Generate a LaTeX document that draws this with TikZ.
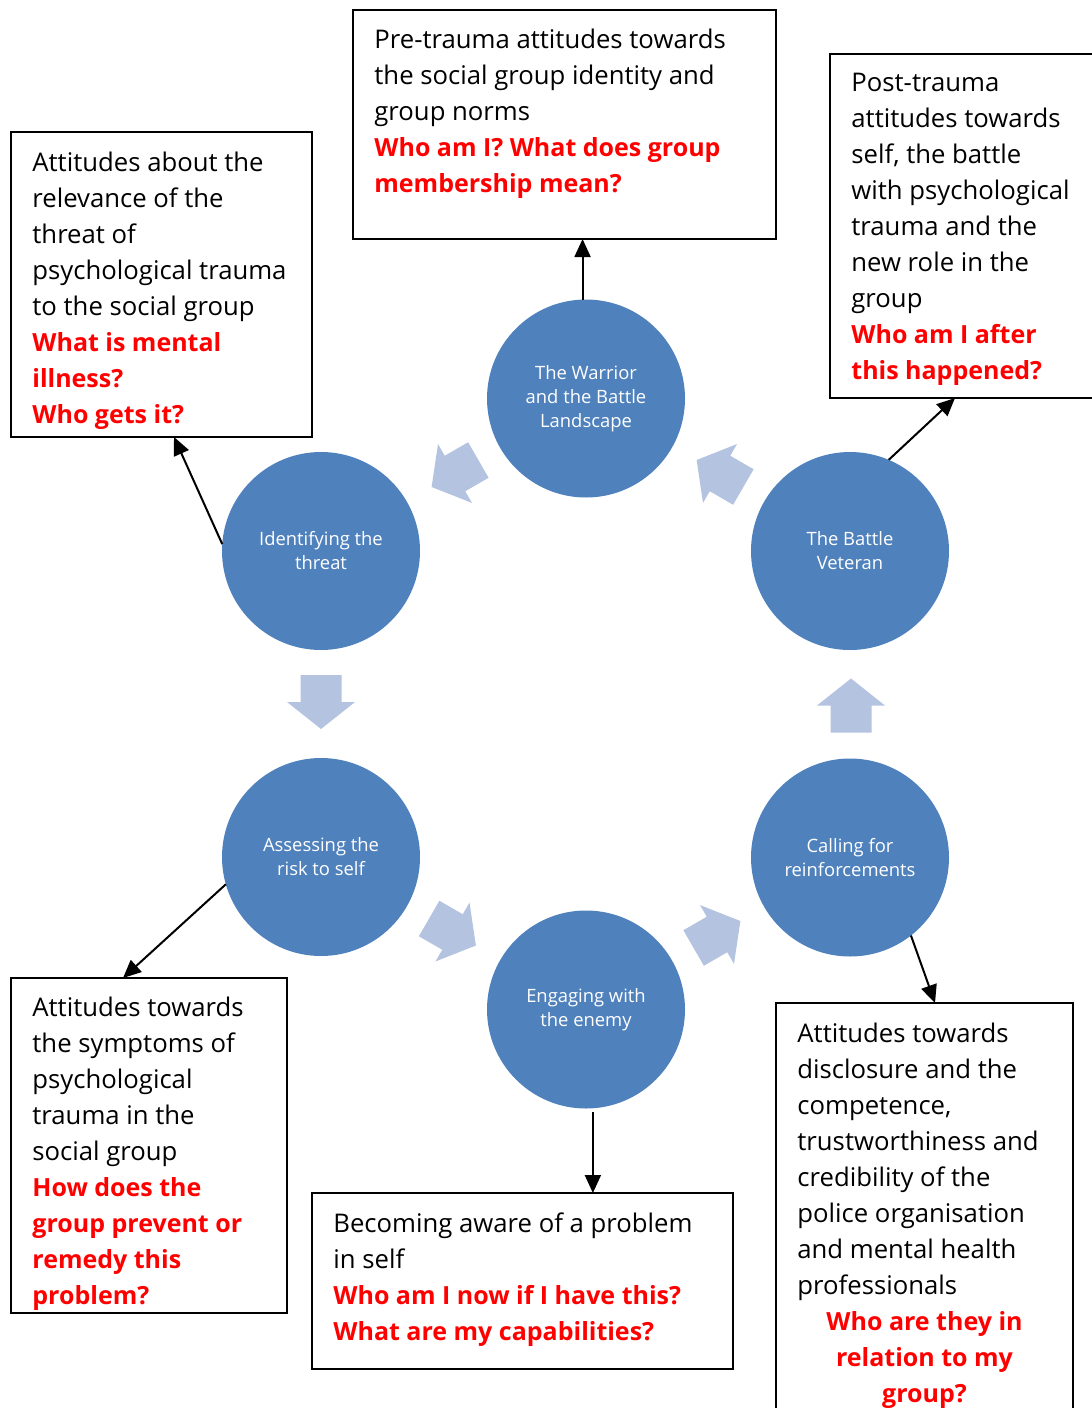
\documentclass[tikz,border=0pt]{standalone}
\usepackage{fontspec}
\setmainfont{Open Sans}
\usetikzlibrary{arrows.meta,calc}

\definecolor{stageblue}{HTML}{4F81BD}
\definecolor{cycleblue}{HTML}{B4C3DF}
\definecolor{askred}{HTML}{FF0000}

\newcommand{\boxfont}{\fontsize{12.85pt}{18pt}\selectfont}
\newcommand{\stagefont}{\fontsize{9.2pt}{12pt}\selectfont}
\newcommand{\ask}[1]{{\fontsize{12.5pt}{18pt}\selectfont\bfseries\color{askred}#1}}

\tikzset{
  stage/.style={circle, fill=stageblue, minimum size=99pt, inner sep=0pt,
    outer sep=0pt, text=white, font=\stagefont, align=center},
  infobox/.style={draw=black, line width=1pt, rectangle, inner sep=0pt,
    outer sep=0pt, anchor=north west},
  boxtext/.style={anchor=north west, inner sep=0pt, align=left, font=\boxfont},
  link/.style={line width=1pt, -{Triangle[length=9pt,width=8pt]}},
  cyclearrow/.style={fill=cycleblue, draw=none}
}

% broad block arrow of the cycle, centred on the origin, pointing along +x
\newcommand{\cyclestep}[3]{%
  \fill[cyclearrow, shift={(#1,#2)}, rotate=#3]
    (-27,-20.5) -- (0,-20.5) -- (0,-34) -- (27,0) -- (0,34) -- (0,20.5)
    -- (-27,20.5) -- cycle;}

\begin{document}
\begin{tikzpicture}[x=0.5pt, y=-0.5pt]
\useasboundingbox (0,0) rectangle (1092,1408);

% stages of the cycle
\node[stage] (warrior) at (586,398.5) {The Warrior\\and the Battle\\Landscape};
\node[stage] (ident)   at (321,551)   {Identifying the\\threat};
\node[stage] (veteran) at (850,551)   {The Battle\\Veteran};
\node[stage] (assess)  at (321,857)   {Assessing the\\risk to self};
\node[stage] (calling) at (850,857.5) {Calling for\\reinforcements};
\node[stage] (engage)  at (586,1009.5){Engaging with\\the enemy};

% block arrows between the stages
\cyclestep{455}{473.5}{210}
\cyclestep{321}{702}{270}
\cyclestep{452.5}{932}{-30}
\cyclestep{717}{934.5}{30}
\cyclestep{851}{705.5}{90}
\cyclestep{720}{473.5}{150}

% attitude boxes
\node[infobox, minimum width=211.5pt, minimum height=114.5pt] (topbox) at (353,10) {};
\node[infobox, minimum width=150.5pt, minimum height=152.5pt] (ltbox)  at (11,132) {};
\node[infobox, minimum width=135pt,   minimum height=172pt]   (rtbox)  at (830,54) {};
\node[infobox, minimum width=138pt,   minimum height=167.5pt] (lbbox)  at (11,978) {};
\node[infobox, minimum width=210.5pt, minimum height=88pt]    (mbbox)  at (312,1193) {};
\node[infobox, minimum width=148.5pt, minimum height=210pt]   (rbbox)  at (776,1003) {};

% box texts
\node[boxtext] (toptext) at (374,22.8) {\strut Pre-trauma attitudes towards\\
  the social group identity and\\group norms\\
  \ask{Who am I? What does group}\\\ask{membership mean?}};
\node[boxtext] (lttext) at (32,145.8) {\strut Attitudes about the\\relevance of the\\
  threat of\\psychological trauma\\to the social group\\
  \ask{What is mental}\\\ask{illness?}\\\ask{Who gets it?}};
\node[boxtext] (rttext) at (851,65.8) {\strut Post-trauma\\attitudes towards\\
  self, the battle\\with psychological\\trauma and the\\new role in the\\group\\
  \ask{Who am I after}\\\ask{this happened?}};
\node[boxtext] (lbtext) at (32,990.8) {\strut Attitudes towards\\the symptoms of\\
  psychological\\trauma in the\\social group\\
  \ask{How does the}\\\ask{group prevent or}\\\ask{remedy this}\\\ask{problem?}};
\node[boxtext] (mbtext) at (333,1206.8) {\strut Becoming aware of a problem\\
  in self\\\ask{Who am I now if I have this?}\\\ask{What are my capabilities?}};
\node[boxtext] (rbtext) at (797,1016.8) {\strut Attitudes towards\\
  disclosure and the\\competence,\\trustworthiness and\\credibility of the\\
  police organisation\\and mental health\\professionals};
\node[boxtext, anchor=north, align=center] (rbask) at (924.5,1304.8)
  {\strut\ask{Who are they in}\\\ask{relation to my}\\\ask{group?}};

% links from stages to attitude boxes
\draw[link] (warrior.92) -- (warrior.92 |- topbox.south);
\draw[link] (ident.176) -- ([xshift=81.5pt]ltbox.south west);
\draw[link] (veteran.67) -- ([xshift=62.5pt]rtbox.south west);
\draw[link] (assess.196) -- ([xshift=56pt]lbbox.north west);
\draw[link] (calling.308) -- ([xshift=79.5pt]rbbox.north west);
\draw[link] ([yshift=-2pt]engage.274) -- (engage.274 |- mbbox.north);
\end{tikzpicture}
\end{document}
